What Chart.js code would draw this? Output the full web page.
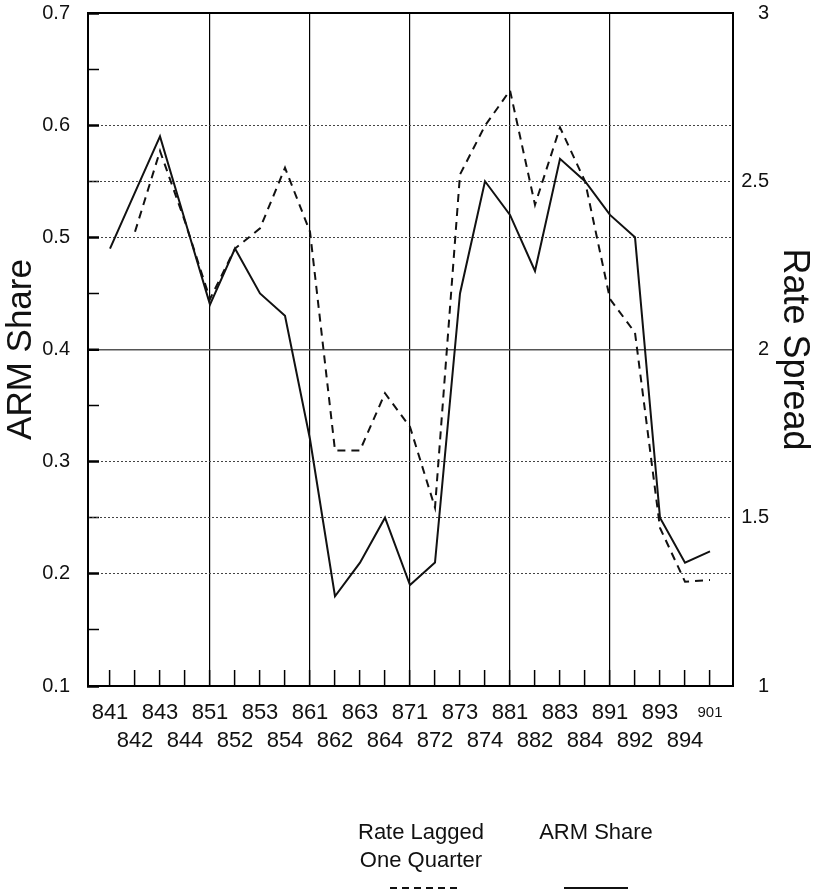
<!DOCTYPE html>
<html>
<head>
<meta charset="utf-8">
<title>ARM Share and Rate Spread</title>
<script src="https://cdn.jsdelivr.net/npm/chart.js@4.4.1/dist/chart.umd.min.js"></script>
<style>
  html, body { margin: 0; padding: 0; background: #fff; }
  #wrap { position: relative; width: 818px; height: 891px; overflow: hidden;
          font-family: "Liberation Sans", Arial, sans-serif; color: #111; }
  #chart { position: absolute; left: 0; top: 0; }
  .key { position: absolute; top: 818px; width: 200px; font-size: 22px; line-height: 28px; text-align: center; }
  #samples { position: absolute; left: 0; top: 0; }
</style>
</head>
<body>
<div id="wrap">
  <canvas id="chart" width="818" height="891"></canvas>
  <div class="key" style="left:321px;">Rate Lagged<br>One Quarter</div>
  <div class="key" style="left:496px;">ARM Share</div>
  <svg id="samples" width="818" height="891">
    <line x1="390" y1="888" x2="460" y2="888" stroke="#111" stroke-width="2" stroke-dasharray="7 5"/>
    <line x1="564" y1="888" x2="628" y2="888" stroke="#111" stroke-width="2"/>
  </svg>
</div>
<script>
// quarters, year + quarter (841 = 1984 Q1)
const quarters = ['841', '842', '843', '844', '851', '852', '853', '854',
                  '861', '862', '863', '864', '871', '872', '873', '874',
                  '881', '882', '883', '884', '891', '892', '893', '894', '901'];

// left axis series
const armShare = [0.49, 0.54, 0.59, 0.515, 0.44, 0.49, 0.45, 0.43,
                  0.32, 0.18, 0.21, 0.25, 0.19, 0.21, 0.45, 0.55,
                  0.52, 0.47, 0.57, 0.55, 0.52, 0.50, 0.25, 0.21, 0.22];

// right axis series, lagged so it starts one quarter later
const rateLagged = [null, 2.35, 2.59, 2.38, 2.15, 2.30, 2.36, 2.54,
                    2.35, 1.70, 1.70, 1.87, 1.77, 1.53, 2.52, 2.665,
                    2.77, 2.43, 2.66, 2.50, 2.15, 2.05, 1.47, 1.31, 1.315];

const shareTicks = [0.1, 0.15, 0.2, 0.25, 0.3, 0.35, 0.4, 0.45, 0.5, 0.55, 0.6, 0.65, 0.7];
const shareLabels = [0.1, 0.2, 0.3, 0.4, 0.5, 0.6, 0.7];
const shareGrid = [0.2, 0.3, 0.4, 0.5, 0.6];
const spreadTicks = [1, 1.5, 2, 2.5, 3];
const spreadGrid = [1.5, 2.5];
const yearStarts = ['851', '861', '871', '881', '891'];

const FONT = '"Liberation Sans", Arial, sans-serif';
const INK = '#111';
const NONE = 'rgba(0,0,0,0)';

function points(values) {
    return values.map(function (v, i) { return { x: i, y: v }; });
}

function tickValue(ctx) {
    return ctx.tick ? ctx.tick.value : null;
}

// fixed box sizes so the plot frame lands where the original one is
function fixWidth(w) {
    return function (s) {
        s.width = w;
        s.paddingTop = 0;
        s.paddingBottom = 0;
    };
}

new Chart(document.getElementById('chart'), {
    type: 'line',
    data: {
        datasets: [
            {
                label: 'ARM Share',
                data: points(armShare),
                xAxisID: 'x',
                yAxisID: 'y',
                borderColor: INK,
                borderWidth: 2,
                pointRadius: 0,
                tension: 0
            },
            {
                label: 'Rate Lagged One Quarter',
                data: points(rateLagged),
                xAxisID: 'x',
                yAxisID: 'y1',
                borderColor: INK,
                borderWidth: 2,
                borderDash: [8, 6],
                pointRadius: 0,
                tension: 0
            }
        ]
    },
    options: {
        responsive: false,
        animation: false,
        devicePixelRatio: 1,
        layout: { padding: { top: 13, left: 0, right: 0, bottom: 0 } },
        plugins: {
            legend: { display: false },
            tooltip: { enabled: false }
        },
        scales: {
            x: {
                type: 'linear',
                position: 'bottom',
                min: -0.88,
                max: 24.92,
                afterBuildTicks: function (s) {
                    s.ticks = quarters.map(function (q, i) { return { value: i }; });
                },
                afterFit: function (s) {
                    s.height = 205;
                    s.paddingLeft = 0;
                    s.paddingRight = 0;
                },
                ticks: {
                    autoSkip: false,
                    maxRotation: 0,
                    padding: 29,
                    color: INK,
                    font: function (ctx) {
                        return { family: FONT, size: quarters[ctx.index] === '901' ? 15 : 22, lineHeight: '28px' };
                    },
                    // alternate the labels over two rows
                    callback: function (v, i) {
                        return i % 2 === 0 ? [quarters[i], ''] : ['', quarters[i]];
                    }
                },
                grid: {
                    color: function (ctx) {
                        const v = tickValue(ctx);
                        return v !== null && yearStarts.includes(quarters[v]) ? '#000' : NONE;
                    },
                    lineWidth: 1.2,
                    tickLength: -16,
                    tickColor: '#000',
                    tickWidth: 1.5
                },
                border: { display: true, color: '#000', width: 2 }
            },
            xTop: {
                type: 'linear',
                position: 'top',
                min: -0.88,
                max: 24.92,
                afterFit: function (s) {
                    s.height = 0;
                    s.paddingLeft = 0;
                    s.paddingRight = 0;
                },
                ticks: { display: false },
                grid: { display: false, drawTicks: false },
                border: { display: true, color: '#000', width: 2 }
            },
            y: {
                type: 'linear',
                position: 'left',
                min: 0.1,
                max: 0.7,
                afterBuildTicks: function (s) {
                    s.ticks = shareTicks.map(function (v) { return { value: v }; });
                },
                afterFit: fixWidth(88),
                ticks: {
                    padding: 29,
                    color: INK,
                    font: { family: FONT, size: 20 },
                    callback: function (v) { return shareLabels.includes(v) ? v.toFixed(1) : ''; }
                },
                grid: {
                    color: function (ctx) {
                        const v = tickValue(ctx);
                        if (v === 0.4) return '#555';
                        return shareGrid.includes(v) ? '#444' : NONE;
                    },
                    lineWidth: function (ctx) { return tickValue(ctx) === 0.4 ? 1.5 : 1; },
                    tickLength: -11,
                    tickColor: '#000',
                    tickWidth: function (ctx) { return shareLabels.includes(tickValue(ctx)) ? 2.5 : 1.5; }
                },
                border: {
                    display: true,
                    color: '#000',
                    width: 2,
                    dash: function (ctx) { return tickValue(ctx) === 0.4 ? [] : [2, 2]; }
                },
                title: {
                    display: true,
                    text: 'ARM Share',
                    color: INK,
                    font: { family: FONT, size: 35 },
                    padding: 0
                }
            },
            y1: {
                type: 'linear',
                position: 'right',
                weight: 0,
                min: 1,
                max: 3,
                afterBuildTicks: function (s) {
                    s.ticks = spreadTicks.map(function (v) { return { value: v }; });
                },
                afterFit: fixWidth(36),
                ticks: {
                    padding: 0,
                    crossAlign: 'far',
                    color: INK,
                    font: { family: FONT, size: 20 },
                    callback: function (v) { return String(v); }
                },
                grid: {
                    drawTicks: false,
                    color: function (ctx) { return spreadGrid.includes(tickValue(ctx)) ? '#444' : NONE; },
                    lineWidth: 1
                },
                border: { display: true, color: '#000', width: 2, dash: [2, 2] }
            },
            // outer right box that only carries the axis title
            y1Title: {
                type: 'linear',
                position: 'right',
                weight: 1,
                min: 1,
                max: 3,
                afterFit: fixWidth(49),
                ticks: { display: false },
                grid: { display: false, drawTicks: false },
                border: { display: false },
                title: {
                    display: true,
                    text: 'Rate Spread',
                    color: INK,
                    font: { family: FONT, size: 36 },
                    padding: { top: 2, bottom: 0 }
                }
            }
        }
    }
});
</script>
</body>
</html>
